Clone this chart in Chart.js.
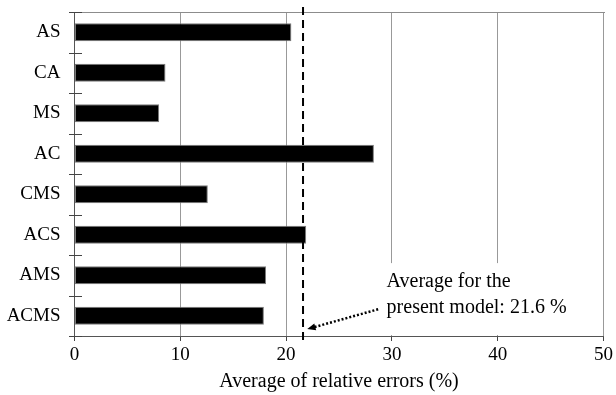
<!DOCTYPE html>
<html>
<head>
<meta charset="utf-8">
<script src="https://cdn.jsdelivr.net/npm/chart.js@4.4.0/dist/chart.umd.min.js"></script>
<style>
  html, body { margin: 0; padding: 0; background: #fff; }
  #wrap { width: 616px; height: 395px; }
</style>
</head>
<body>
<div id="wrap"><canvas id="errChart"></canvas></div>
<script>
// ---------- data ----------
const categories = ['AS', 'CA', 'MS', 'AC', 'CMS', 'ACS', 'AMS', 'ACMS'];
const relErrors = [20.5, 8.6, 8.0, 28.3, 12.6, 21.9, 18.1, 17.9];
const modelAverage = 21.6;
const xTicks = [0, 10, 20, 30, 40, 50];
const noteLines = ['Average for the', 'present model: 21.6 %'];

const SERIF = '"Liberation Serif", "Times New Roman", serif';
const GRID = '#999';

// ---- frame, category ticks, dashed average line + annotation ----
const averagePlugin = {
  id: 'averageLine',
  afterDraw(chart) {
    const { ctx, chartArea, scales: { x, y } } = chart;
    const last = categories.length - 1;
    const step = y.getPixelForValue(1) - y.getPixelForValue(0);
    const top = Math.round(chartArea.top), bottom = chartArea.bottom, left = Math.round(chartArea.left);

    ctx.save();
    ctx.setLineDash([]);
    // white box behind the note (hides grid lines)
    const boxL = x.getPixelForValue(28.8);
    const boxR = x.getPixelForValue(48.5);
    const boxT = y.getPixelForValue(last) - step * 1.3;
    ctx.fillStyle = '#fff';
    ctx.fillRect(boxL, boxT, boxR - boxL, bottom - 1 - boxT);

    // top frame line
    ctx.fillStyle = '#8c8c8c';
    ctx.fillRect(left - 6, top, Math.round(chartArea.right) - left + 7, 1);

    // category tick marks crossing the axis
    ctx.fillStyle = '#444';
    for (let i = 0; i <= categories.length; i++) {
      ctx.fillRect(left - 6, Math.round(top + step * i), 13, 1);
    }

    // dashed vertical line
    const ax = x.getPixelForValue(modelAverage);
    ctx.strokeStyle = '#000';
    ctx.lineWidth = 2;
    ctx.setLineDash([8, 5]);
    ctx.beginPath();
    ctx.moveTo(ax, top - 5);
    ctx.lineTo(ax, bottom + 5);
    ctx.stroke();

    // note text
    ctx.setLineDash([]);
    ctx.fillStyle = '#000';
    ctx.font = '20px ' + SERIF;
    ctx.textAlign = 'left';
    ctx.textBaseline = 'middle';
    const tx = x.getPixelForValue(29.5);
    ctx.fillText(noteLines[0], tx, y.getPixelForValue(last) - step * 0.83);
    ctx.fillText(noteLines[1], tx, y.getPixelForValue(last) - step * 0.19);

    // dotted arrow
    const x0 = x.getPixelForValue(28.7), y0 = y.getPixelForValue(last) - step * 0.16;
    const x1 = x.getPixelForValue(22.0), y1 = y.getPixelForValue(last) + step * 0.33;
    const ang = Math.atan2(y1 - y0, x1 - x0);
    ctx.lineWidth = 2.5;
    ctx.setLineDash([2, 2]);
    ctx.beginPath();
    ctx.moveTo(x0, y0);
    ctx.lineTo(x1 - 7 * Math.cos(ang), y1 - 7 * Math.sin(ang));
    ctx.stroke();
    ctx.setLineDash([]);
    ctx.beginPath();
    ctx.moveTo(x1, y1);
    ctx.lineTo(x1 - 9 * Math.cos(ang - 0.4), y1 - 9 * Math.sin(ang - 0.4));
    ctx.lineTo(x1 - 9 * Math.cos(ang + 0.4), y1 - 9 * Math.sin(ang + 0.4));
    ctx.closePath();
    ctx.fill();
    ctx.restore();
  }
};

function renderChart() {
  const ctx = document.getElementById('errChart').getContext('2d');
  new Chart(ctx, {
    type: 'bar',
    data: {
      labels: categories,
      datasets: [{
        data: relErrors,
        backgroundColor: '#000',
        borderColor: '#7a7a7a',
        borderWidth: 1,
        borderSkipped: false,
        categoryPercentage: 1,
        barPercentage: 0.44,
      }]
    },
    options: {
      indexAxis: 'y',
      responsive: true,
      maintainAspectRatio: false,
      animation: false,
      layout: { padding: { top: 12, right: 10, left: 0, bottom: 0 } },
      plugins: { legend: { display: false }, tooltip: { enabled: false } },
      scales: {
        x: {
          min: 0,
          max: 50,
          afterBuildTicks: s => { s.ticks = xTicks.map(v => ({ value: v })); },
          afterFit: s => { s.height = 59; },
          grid: { color: GRID, lineWidth: 1, tickLength: 5, tickColor: '#444' },
          border: { color: '#555' },
          ticks: { color: '#000', padding: 3, font: { family: SERIF, size: 19 } },
          title: {
            display: true,
            text: 'Average of relative errors (%)',
            color: '#000',
            font: { family: SERIF, size: 20 },
            padding: { top: 0, bottom: 1 }
          }
        },
        y: {
          afterFit: s => { s.width = 74.5; s.paddingTop = 0; s.paddingBottom = 0; },
          grid: { display: false },
          border: { color: '#555' },
          ticks: { color: '#000', padding: 6, font: { family: SERIF, size: 19 } }
        }
      }
    },
    plugins: [averagePlugin]
  });
}

document.addEventListener('DOMContentLoaded', renderChart);
</script>
</body>
</html>
